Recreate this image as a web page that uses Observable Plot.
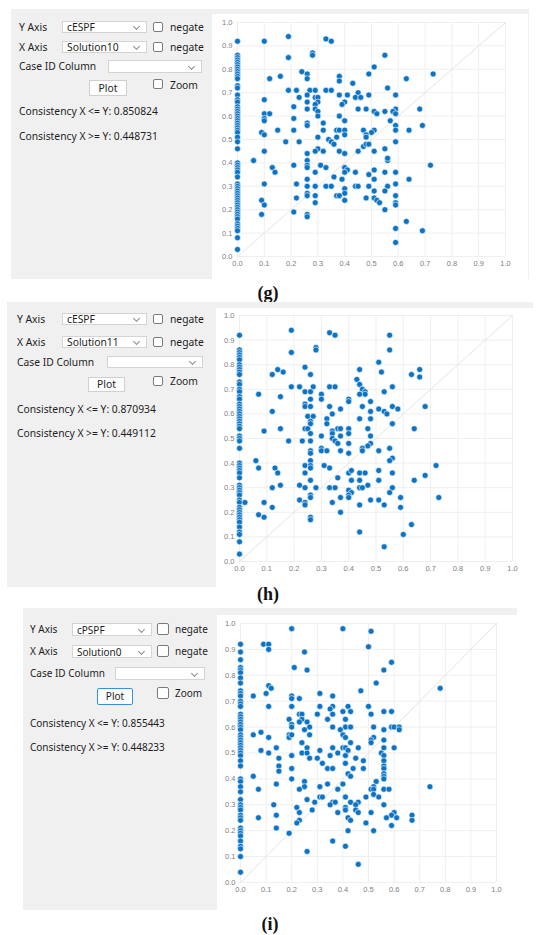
<!DOCTYPE html>
<html><head><meta charset="utf-8">
<script src="https://cdn.jsdelivr.net/npm/d3@7"></script>
<script src="https://cdn.jsdelivr.net/npm/@observablehq/plot@0.6"></script>
<style>
html,body{margin:0;padding:0;background:#fff;}
body{width:550px;height:935px;position:relative;overflow:hidden;font-family:"Noto Sans",sans-serif;color:#1e1e1e;}
.abs{position:absolute;box-sizing:border-box;}
.bg{background:#f0f0f0;}
.txt{white-space:nowrap;line-height:1.2;transform:translateY(-50%);}
.dd{background:#fff;border:1px solid #d4d4d4;}
.chev{position:absolute;width:4px;height:4px;border-right:1px solid #8c8c8c;border-bottom:1px solid #8c8c8c;transform:rotate(45deg);}
.cb{background:#fff;border:1px solid #7a7a7a;border-radius:2px;}
.btn{background:#fdfdfd;border:1px solid #cfcfcf;text-align:center;}
.tag{font-family:"Liberation Serif",serif;font-weight:bold;font-size:18px;color:#111;transform:translate(-50%,-50%);white-space:nowrap;}
</style>
</head><body>
<script>
// ---------------- data ----------------
const tickVals = [0,0.1,0.2,0.3,0.4,0.5,0.6,0.7,0.8,0.9,1.0];
const panelTags = ["(g)","(h)","(i)"];
const yAxisNames = ["cESPF","cESPF","cPSPF"];
const xAxisNames = ["Solution10","Solution11","Solution0"];
const consLE = ["0.850824","0.870934","0.855443"];
const consGE = ["0.448731","0.449112","0.448233"];
const diagonal = [[0,0],[1,1]];

// panel (g): points at x = 0
const gZeroY = [0.92,0.86,0.85,0.84,0.83,0.82,0.81,0.80,0.79,0.78,0.77,0.76,0.73,0.72,0.69,0.67,0.66,0.64,0.63,0.62,0.61,0.60,0.59,0.58,0.57,0.56,0.55,0.54,0.53,0.51,0.49,0.46,0.40,0.39,0.38,0.37,0.36,0.34,0.31,0.30,0.29,0.28,0.27,0.26,0.25,0.24,0.23,0.22,0.21,0.20,0.19,0.18,0.17,0.16,0.14,0.13,0.12,0.11,0.08,0.03];
// panel (g): other points [x, y]
const gPts = [[0.10,0.92],[0.19,0.94],[0.19,0.85],[0.28,0.87],[0.28,0.86],[0.33,0.93],[0.35,0.92],[0.55,0.86],[0.51,0.81],[0.49,0.78],[0.73,0.78],[0.63,0.76],[0.12,0.76],[0.16,0.77],[0.24,0.79],[0.26,0.78],[0.26,0.76],[0.38,0.77],[0.38,0.75],[0.43,0.74],[0.56,0.72],
[0.19,0.71],[0.22,0.71],[0.27,0.71],[0.29,0.71],[0.33,0.71],[0.35,0.71],[0.45,0.70],[0.49,0.69],[0.38,0.69],[0.41,0.69],[0.26,0.69],[0.23,0.68],[0.29,0.68],[0.30,0.68],[0.44,0.68],[0.46,0.68],[0.59,0.69],
[0.10,0.67],[0.26,0.66],[0.30,0.66],[0.40,0.66],[0.39,0.65],[0.29,0.65],[0.21,0.64],[0.26,0.63],[0.29,0.63],[0.45,0.63],[0.48,0.63],[0.59,0.63],[0.68,0.63],[0.30,0.62],[0.51,0.62],[0.55,0.62],[0.58,0.62],[0.10,0.61],[0.12,0.61],[0.52,0.61],[0.59,0.61],[0.30,0.60],[0.38,0.60],[0.21,0.59],[0.10,0.59],[0.10,0.58],[0.40,0.58],[0.57,0.58],[0.26,0.57],[0.32,0.57],[0.26,0.56],[0.59,0.56],[0.69,0.56],
[0.15,0.54],[0.21,0.54],[0.32,0.54],[0.37,0.54],[0.38,0.54],[0.40,0.54],[0.47,0.54],[0.51,0.54],[0.50,0.53],[0.59,0.54],[0.64,0.54],[0.09,0.53],[0.10,0.52],[0.48,0.52],[0.40,0.52],[0.48,0.51],[0.30,0.51],[0.37,0.51],[0.34,0.50],
[0.18,0.49],[0.23,0.49],[0.35,0.49],[0.36,0.48],[0.30,0.46],[0.29,0.45],[0.32,0.45],[0.38,0.45],[0.45,0.45],[0.51,0.45],[0.47,0.47],[0.48,0.48],[0.49,0.48],[0.55,0.46],[0.59,0.49],[0.40,0.44],[0.26,0.44],[0.10,0.45],[0.06,0.41],[0.26,0.41],[0.56,0.41],[0.56,0.42],
[0.21,0.39],[0.26,0.39],[0.26,0.38],[0.31,0.39],[0.33,0.38],[0.13,0.38],[0.14,0.36],[0.40,0.38],[0.41,0.37],[0.40,0.36],[0.51,0.37],[0.72,0.39],[0.55,0.36],[0.59,0.36],[0.44,0.36],[0.29,0.36],[0.36,0.34],[0.49,0.35],[0.51,0.33],[0.64,0.33],[0.26,0.33],[0.39,0.33],
[0.10,0.31],[0.22,0.31],[0.59,0.31],[0.26,0.30],[0.29,0.30],[0.33,0.30],[0.35,0.30],[0.44,0.30],[0.45,0.30],[0.49,0.30],[0.56,0.30],[0.40,0.29],[0.51,0.28],[0.55,0.28],[0.40,0.27],[0.26,0.27],[0.26,0.26],[0.37,0.26],[0.38,0.26],[0.29,0.26],[0.59,0.26],[0.22,0.25],[0.48,0.25],[0.51,0.25],[0.52,0.24],[0.40,0.24],[0.53,0.23],[0.09,0.24],[0.29,0.23],[0.59,0.23],[0.59,0.22],[0.10,0.22],[0.55,0.20],[0.21,0.19],[0.09,0.18],[0.26,0.18],[0.26,0.17],[0.63,0.15],[0.59,0.12],[0.69,0.11],[0.59,0.06]];

// panel (h)
const hZeroY = [0.92,0.86,0.85,0.84,0.83,0.82,0.80,0.79,0.78,0.77,0.76,0.73,0.72,0.70,0.69,0.67,0.66,0.64,0.63,0.62,0.61,0.60,0.59,0.58,0.57,0.56,0.55,0.54,0.51,0.50,0.49,0.46,0.40,0.39,0.38,0.37,0.36,0.34,0.31,0.30,0.29,0.28,0.27,0.25,0.24,0.22,0.21,0.20,0.19,0.18,0.17,0.16,0.14,0.12,0.11,0.08,0.03];
const hPts = [[0.19,0.94],[0.19,0.85],[0.33,0.93],[0.35,0.92],[0.55,0.92],[0.55,0.86],[0.28,0.87],[0.28,0.86],[0.51,0.81],[0.52,0.77],[0.44,0.78],[0.24,0.79],[0.26,0.76],[0.12,0.76],[0.14,0.78],[0.16,0.77],[0.63,0.76],[0.66,0.78],[0.66,0.75],
[0.43,0.74],[0.44,0.72],[0.45,0.70],[0.46,0.69],[0.46,0.68],[0.44,0.68],[0.53,0.69],[0.56,0.71],[0.19,0.71],[0.22,0.71],[0.27,0.71],[0.33,0.71],[0.35,0.71],[0.24,0.69],[0.26,0.69],[0.07,0.68],[0.30,0.68],[0.30,0.66],[0.15,0.67],[0.26,0.66],[0.40,0.66],[0.40,0.65],[0.48,0.65],
[0.24,0.64],[0.24,0.63],[0.26,0.63],[0.33,0.63],[0.45,0.63],[0.56,0.63],[0.68,0.63],[0.37,0.62],[0.51,0.62],[0.58,0.62],[0.48,0.61],[0.53,0.61],[0.54,0.60],[0.12,0.61],[0.34,0.60],
[0.25,0.59],[0.27,0.59],[0.32,0.58],[0.44,0.58],[0.48,0.58],[0.26,0.57],[0.32,0.56],[0.26,0.56],[0.56,0.56],
[0.15,0.54],[0.24,0.54],[0.25,0.54],[0.36,0.54],[0.37,0.54],[0.40,0.54],[0.47,0.54],[0.64,0.54],[0.09,0.53],[0.34,0.53],[0.26,0.52],[0.34,0.52],[0.40,0.52],[0.30,0.51],[0.37,0.51],[0.48,0.51],[0.34,0.50],[0.35,0.49],[0.18,0.49],[0.23,0.49],[0.26,0.49],[0.36,0.48],[0.40,0.48],[0.48,0.48],[0.47,0.47],[0.45,0.46],[0.55,0.46],[0.30,0.46],
[0.30,0.45],[0.32,0.45],[0.37,0.45],[0.45,0.45],[0.51,0.45],[0.26,0.45],[0.26,0.44],[0.40,0.44],[0.56,0.42],[0.55,0.41],[0.06,0.41],[0.26,0.41],
[0.07,0.38],[0.13,0.38],[0.24,0.39],[0.26,0.39],[0.26,0.38],[0.31,0.39],[0.33,0.38],[0.72,0.39],[0.14,0.36],[0.24,0.36],[0.40,0.36],[0.41,0.37],[0.44,0.36],[0.46,0.36],[0.51,0.37],[0.56,0.36],[0.68,0.35],[0.36,0.34],[0.26,0.33],[0.41,0.33],[0.44,0.33],[0.51,0.33],[0.64,0.33],
[0.15,0.31],[0.22,0.31],[0.47,0.31],[0.12,0.30],[0.24,0.30],[0.28,0.30],[0.33,0.30],[0.35,0.30],[0.44,0.30],[0.45,0.30],[0.56,0.30],[0.40,0.29],[0.41,0.28],[0.55,0.28],[0.40,0.27],[0.26,0.27],[0.26,0.26],[0.37,0.26],[0.40,0.26],[0.59,0.26],[0.73,0.26],[0.22,0.25],[0.48,0.25],[0.51,0.25],[0.02,0.24],[0.09,0.24],[0.24,0.24],[0.34,0.24],[0.24,0.23],[0.44,0.23],[0.53,0.23],[0.12,0.22],[0.59,0.22],[0.37,0.20],[0.07,0.19],[0.09,0.18],[0.26,0.18],[0.26,0.17],[0.63,0.15],[0.44,0.12],[0.60,0.11],[0.53,0.06]];

// panel (i)
const iZeroY = [0.92,0.89,0.86,0.83,0.82,0.81,0.79,0.77,0.74,0.73,0.72,0.70,0.69,0.68,0.65,0.64,0.63,0.62,0.61,0.60,0.59,0.57,0.56,0.55,0.54,0.53,0.52,0.51,0.50,0.49,0.47,0.45,0.40,0.39,0.37,0.35,0.32,0.30,0.29,0.28,0.26,0.25,0.24,0.21,0.20,0.19,0.18,0.16,0.14,0.13,0.10,0.04];
const iPts = [[0.20,0.98],[0.40,0.98],[0.51,0.97],[0.50,0.91],[0.09,0.92],[0.11,0.92],[0.11,0.90],[0.25,0.89],[0.59,0.85],[0.21,0.83],[0.26,0.82],[0.56,0.82],[0.53,0.77],[0.11,0.76],[0.12,0.75],[0.10,0.73],[0.78,0.75],[0.47,0.74],[0.31,0.73],[0.05,0.72],[0.20,0.72],[0.20,0.71],[0.36,0.72],[0.23,0.71],
[0.11,0.68],[0.20,0.68],[0.31,0.68],[0.36,0.68],[0.42,0.68],[0.50,0.68],[0.35,0.67],[0.40,0.66],[0.43,0.66],[0.56,0.66],[0.59,0.66],[0.23,0.65],[0.24,0.65],[0.30,0.65],[0.36,0.65],[0.51,0.65],[0.19,0.63],[0.34,0.63],[0.41,0.63],[0.24,0.63],[0.23,0.62],[0.26,0.62],[0.20,0.61],[0.20,0.60],[0.27,0.60],[0.36,0.60],[0.41,0.60],[0.43,0.60],[0.52,0.60],[0.59,0.60],[0.60,0.60],[0.62,0.60],[0.62,0.59],[0.25,0.59],[0.39,0.59],[0.56,0.59],[0.08,0.58],[0.05,0.57],[0.19,0.57],[0.19,0.56],[0.20,0.57],[0.27,0.57],[0.40,0.57],[0.41,0.56],[0.52,0.56],[0.11,0.56],[0.51,0.55],[0.51,0.54],[0.56,0.55],[0.24,0.54],[0.43,0.54],
[0.14,0.52],[0.26,0.52],[0.36,0.52],[0.40,0.52],[0.41,0.52],[0.46,0.52],[0.56,0.52],[0.60,0.52],[0.08,0.51],[0.31,0.51],[0.42,0.51],[0.11,0.50],[0.24,0.50],[0.26,0.50],[0.38,0.50],[0.55,0.50],[0.35,0.49],[0.20,0.49],[0.41,0.49],[0.56,0.49],[0.15,0.48],[0.27,0.48],[0.30,0.48],[0.45,0.48],[0.48,0.47],[0.56,0.47],[0.32,0.46],[0.41,0.46],[0.15,0.45],[0.56,0.45],[0.20,0.44],[0.34,0.44],[0.36,0.44],[0.44,0.44],[0.48,0.44],[0.56,0.44],[0.15,0.43],[0.42,0.42],[0.56,0.42],[0.43,0.41],[0.05,0.41],[0.56,0.41],[0.20,0.40],[0.56,0.40],[0.25,0.39],[0.53,0.39],[0.14,0.38],[0.34,0.38],[0.40,0.38],[0.25,0.37],[0.31,0.37],[0.52,0.37],[0.74,0.37],[0.07,0.36],[0.23,0.36],[0.38,0.36],[0.51,0.36],[0.52,0.36],[0.56,0.36],[0.58,0.36],[0.52,0.34],[0.54,0.33],[0.41,0.33],[0.31,0.33],[0.32,0.33],[0.49,0.33],[0.26,0.32],[0.29,0.31],[0.36,0.31],[0.37,0.31],[0.43,0.31],[0.46,0.31],[0.13,0.30],[0.35,0.30],[0.56,0.30],[0.45,0.30],[0.22,0.29],[0.41,0.29],[0.45,0.28],[0.41,0.28],[0.28,0.28],[0.23,0.27],[0.38,0.27],[0.46,0.27],[0.51,0.27],[0.60,0.27],[0.14,0.26],[0.59,0.26],[0.67,0.26],[0.07,0.25],[0.42,0.25],[0.57,0.25],[0.61,0.25],[0.23,0.24],[0.43,0.24],[0.67,0.24],[0.22,0.23],[0.49,0.23],[0.59,0.22],[0.14,0.21],[0.42,0.20],[0.52,0.20],[0.19,0.19],[0.36,0.16],[0.41,0.14],[0.26,0.12],[0.46,0.07]];

// ---------------- layout (positions only) ----------------
const layouts = [
  {bg:[11,9,518,270], plot:[212,14,316,265], m:[8,23,23,25], labX:19, yCy:27, xCy:47, caseCy:66,
   dd:[62,85,12], cbL:153, cbS:10, negL:170, caseDD:[108,94,13], btn:[89,80,38,16], focus:false,
   zoomCbT:79, zoomCy:85, c1:111, c2:136, fs:10.3, tag:[268,293]},
  {bg:[7,302,526,285], plot:[216,308,317,279], m:[7,21,26,23], labX:17, yCy:319, xCy:342, caseCy:362,
   dd:[62,85,12], cbL:153, cbS:10, negL:170, caseDD:[107,96,12], btn:[88,377,37,15], focus:false,
   zoomCbT:376, zoomCy:381, c1:409, c2:433, fs:10.3, tag:[268,594]},
  {bg:[23,608,494,302], plot:[217,615,300,295], m:[8,21,28,23], labX:30, yCy:629, xCy:651, caseCy:673,
   dd:[72,80,13], cbL:157, cbS:12, negL:175, caseDD:[115,90,13], btn:[97,688,36,17], focus:true,
   zoomCbT:687, zoomCy:693, c1:723, c2:747, fs:10, tag:[270,924]}
];

function el(cls, l, t, w, h, text, extra) {
  const d = document.createElement("div");
  d.className = "abs " + cls;
  d.style.left = l + "px"; d.style.top = t + "px";
  if (w != null) d.style.width = w + "px";
  if (h != null) d.style.height = h + "px";
  if (text != null) d.textContent = text;
  if (extra) Object.assign(d.style, extra);
  document.body.appendChild(d);
  return d;
}
function txt(l, cy, s, fs) { return el("txt", l, cy, null, null, s, {fontSize: fs + "px"}); }
function dropdown(l, cy, w, h, s, fs) {
  const d = el("dd", l, Math.round(cy - h/2), w, h, null);
  if (s) { const t = document.createElement("div"); t.className = "abs txt"; t.style.left = "4px"; t.style.top = (h/2 - 1) + "px"; t.style.fontSize = fs + "px"; t.textContent = s; d.appendChild(t); }
  const c = document.createElement("div"); c.className = "chev"; c.style.right = "7px"; c.style.top = (h/2 - 4) + "px"; d.appendChild(c);
  return d;
}

layouts.forEach((L, k) => {
  el("bg", L.bg[0], L.bg[1], L.bg[2], L.bg[3]);
  const fs = L.fs;
  txt(L.labX, L.yCy, "Y Axis", fs);
  dropdown(L.dd[0], L.yCy, L.dd[1], L.dd[2], yAxisNames[k], fs);
  el("cb", L.cbL, Math.round(L.yCy - L.cbS/2), L.cbS, L.cbS);
  txt(L.negL, L.yCy, "negate", fs);
  txt(L.labX, L.xCy, "X Axis", fs);
  dropdown(L.dd[0], L.xCy, L.dd[1], L.dd[2], xAxisNames[k], fs);
  el("cb", L.cbL, Math.round(L.xCy - L.cbS/2), L.cbS, L.cbS);
  txt(L.negL, L.xCy, "negate", fs);
  txt(L.labX, L.caseCy, "Case ID Column", fs);
  dropdown(L.caseDD[0], L.caseCy, L.caseDD[1], L.caseDD[2], "", fs);
  el("btn", L.btn[0], L.btn[1], L.btn[2], L.btn[3], "Plot",
     {fontSize: fs + "px", lineHeight: (L.btn[3] - 2) + "px", border: L.focus ? "1px solid #3a8ee0" : "1px solid #d0d0d0", borderRadius: L.focus ? "2px" : "0"});
  el("cb", L.cbL, L.zoomCbT, L.cbS, L.cbS);
  txt(L.negL, L.zoomCy, "Zoom", fs);
  txt(L.labX, L.c1, "Consistency X <= Y: " + consLE[k], fs);
  txt(L.labX, L.c2, "Consistency X >= Y: " + consGE[k], fs);
  el("tag", L.tag[0], L.tag[1], null, null, panelTags[k]);
});

function scatter(pts, zeroY, L) {
  const data = zeroY.map(y => ({x: 0, y})).concat(pts.map(([x, y]) => ({x, y})));
  const diag = diagonal.map(([x, y]) => ({x, y}));
  const [w, h] = [L.plot[2], L.plot[3]];
  const chart = Plot.plot({
    width: w, height: h,
    marginTop: L.m[0], marginRight: L.m[1], marginBottom: L.m[2], marginLeft: L.m[3],
    x: {domain: [0, 1]}, y: {domain: [0, 1]},
    style: {background: "#fff", fontFamily: "'Liberation Sans', Arial, sans-serif", fontSize: "7.5px", color: "#808080", overflow: "visible"},
    marks: [
      Plot.gridX(tickVals, {stroke: "#efefef", strokeOpacity: 1}),
      Plot.gridY(tickVals, {stroke: "#efefef", strokeOpacity: 1}),
      Plot.line(diag, {x: "x", y: "y", stroke: "#e4e4e4", strokeWidth: 1}),
      Plot.dot(data, {x: "x", y: "y", r: 3, fill: "#0d74c5", stroke: "#ffffff", strokeWidth: 0.6}),
      Plot.axisX(tickVals, {tickSize: 0, tickPadding: 4, tickFormat: d3.format(".1f"), label: null, fill: "#808080"}),
      Plot.axisY(tickVals, {tickSize: 0, tickPadding: 5, tickFormat: d3.format(".1f"), label: null, fill: "#808080"})
    ]
  });
  const holder = el("", L.plot[0], L.plot[1], w, h, null, {background: "#fff"});
  holder.appendChild(chart);
}
scatter(gPts, gZeroY, layouts[0]);
scatter(hPts, hZeroY, layouts[1]);
scatter(iPts, iZeroY, layouts[2]);
</script>
</body></html>
